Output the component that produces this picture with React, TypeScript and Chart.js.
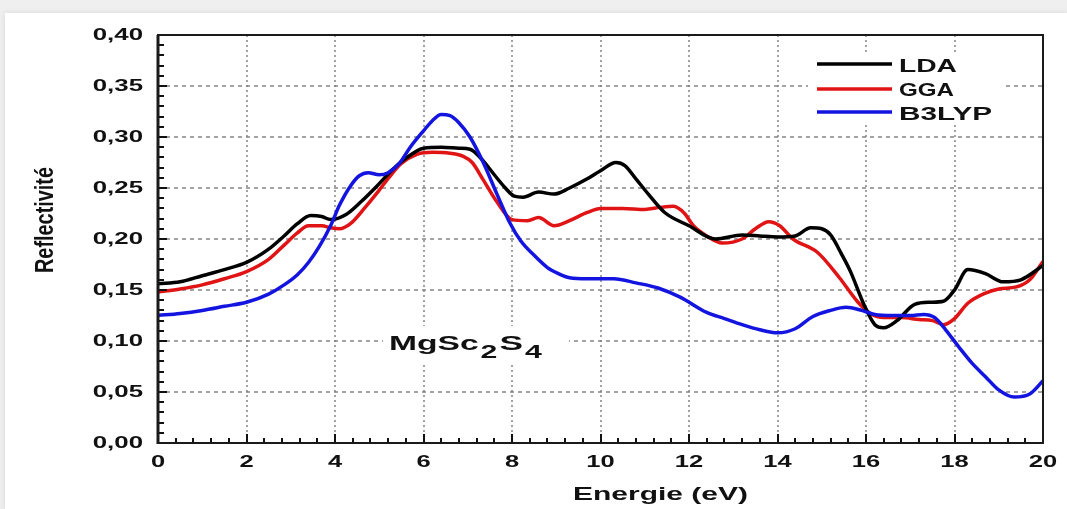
import React, { useEffect, useRef } from 'react';
import { Chart, registerables } from 'chart.js';

Chart.register(...registerables);

// ---------- DATA ----------
const seriesNames = ['LDA', 'GGA', 'B3LYP'];
const seriesColors = ['#000000', '#e01414', '#1414e0'];

const ldaEnergy = [0, 0.5, 1, 1.5, 2, 2.5, 2.85, 3.15, 3.45, 3.7, 3.9, 4.25, 4.6, 4.95, 5.3, 5.6, 6.0, 6.4, 6.8, 7.05, 7.3, 7.6, 7.85, 8.05, 8.25, 8.6, 8.95, 9.3, 9.7, 10.0, 10.35, 10.55, 10.8, 11.1, 11.45, 12.0, 12.6, 13.2, 13.6, 14.0, 14.4, 14.75, 15.0, 15.2, 15.45, 15.65, 15.95, 16.2, 16.4, 16.7, 17.1, 17.45, 17.75, 18.0, 18.3, 18.7, 19.1, 19.5, 20];
const ldaValues = [0.156, 0.158, 0.164, 0.17, 0.177, 0.19, 0.203, 0.215, 0.223, 0.222, 0.219, 0.224, 0.237, 0.252, 0.268, 0.279, 0.289, 0.29, 0.289, 0.288, 0.279, 0.263, 0.25, 0.242, 0.241, 0.246, 0.244, 0.25, 0.259, 0.267, 0.275, 0.272, 0.259, 0.243, 0.226, 0.213, 0.2, 0.204, 0.203, 0.202, 0.203, 0.211, 0.21, 0.204, 0.185, 0.168, 0.136, 0.116, 0.113, 0.12, 0.136, 0.138, 0.139, 0.15, 0.17, 0.166, 0.158, 0.16, 0.174];

const ggaEnergy = [0, 0.5, 1, 1.5, 2, 2.5, 2.85, 3.15, 3.4, 3.7, 3.9, 4.1, 4.35, 4.7, 5.0, 5.25, 5.5, 5.85, 6.2, 6.6, 6.9, 7.1, 7.35, 7.65, 8.0, 8.35, 8.6, 8.95, 9.3, 9.7, 10.0, 10.5, 11.0, 11.35, 11.65, 11.9, 12.1, 12.4, 12.75, 13.2, 13.5, 13.8, 14.05, 14.35, 14.9, 15.4, 15.8, 16.1, 16.4, 16.8, 17.2, 17.5, 17.75, 18.0, 18.3, 18.7, 19.0, 19.4, 19.7, 20];
const ggaValues = [0.148, 0.151, 0.155, 0.161, 0.168, 0.18, 0.194, 0.206, 0.213, 0.213, 0.211, 0.21, 0.215, 0.232, 0.248, 0.262, 0.274, 0.283, 0.285, 0.284, 0.281, 0.275, 0.258, 0.237, 0.219, 0.218, 0.221, 0.213, 0.218, 0.226, 0.23, 0.23, 0.229, 0.231, 0.232, 0.225, 0.213, 0.203, 0.196, 0.2, 0.21, 0.217, 0.213, 0.2, 0.187, 0.162, 0.139, 0.127, 0.123, 0.123, 0.121, 0.12, 0.116, 0.122, 0.137, 0.147, 0.151, 0.153, 0.16, 0.178];

const b3lypEnergy = [0, 0.5, 1, 1.5, 2, 2.5, 2.85, 3.15, 3.4, 3.65, 3.9, 4.1, 4.35, 4.55, 4.75, 5.0, 5.2, 5.45, 5.7, 6.0, 6.2, 6.4, 6.6, 6.8, 7.05, 7.35, 7.65, 7.95, 8.2, 8.5, 8.8, 9.05, 9.3, 9.7, 10.3, 10.8, 11.3, 11.8, 12.4, 12.8, 13.2, 13.6, 14.0, 14.4, 14.8, 15.2, 15.55, 15.9, 16.2, 16.6, 17.0, 17.3, 17.55, 17.8, 18.1, 18.4, 18.7, 19.0, 19.35, 19.7, 20];
const b3lypValues = [0.125, 0.127, 0.13, 0.134, 0.138, 0.146, 0.155, 0.165, 0.177, 0.193, 0.213, 0.233, 0.252, 0.262, 0.265, 0.263, 0.265, 0.274, 0.29, 0.306, 0.316, 0.322, 0.321, 0.314, 0.3, 0.275, 0.245, 0.216, 0.198, 0.184, 0.172, 0.166, 0.162, 0.161, 0.161, 0.157, 0.152, 0.143, 0.128, 0.122, 0.116, 0.111, 0.108, 0.112, 0.124, 0.13, 0.133, 0.13, 0.126, 0.125, 0.125, 0.126, 0.123, 0.111, 0.094, 0.078, 0.065, 0.052, 0.045, 0.048, 0.061];

const xTickValues = [0, 2, 4, 6, 8, 10, 12, 14, 16, 18, 20];
const xTickLabels = ['0', '2', '4', '6', '8', '10', '12', '14', '16', '18', '20'];
const yTickValues = [0, 0.05, 0.1, 0.15, 0.2, 0.25, 0.3, 0.35, 0.4];
const yTickLabels = ['0,00', '0,05', '0,10', '0,15', '0,20', '0,25', '0,30', '0,35', '0,40'];

const xTitle = 'Energie (eV)';
const yTitle = 'Reflectivité';
const materialParts = [
  { text: 'MgSc', sub: false, size: 20 },
  { text: '2', sub: true, size: 18 },
  { text: 'S', sub: false, size: 21 },
  { text: '4', sub: true, size: 18 },
];

const FONT = '"Liberation Sans", Arial, Helvetica, sans-serif';

function toPoints(xs: number[], ys: number[]) {
  return xs.map((x, i) => ({ x, y: ys[i] }));
}

function drawStretched(
  ctx: CanvasRenderingContext2D,
  text: string,
  x: number,
  y: number,
  font: string,
  sx: number,
  align: 'left' | 'center' | 'right',
  baseline: CanvasTextBaseline
) {
  ctx.save();
  ctx.font = font;
  ctx.textBaseline = baseline;
  ctx.textAlign = 'left';
  const w = ctx.measureText(text).width;
  ctx.translate(x, y);
  ctx.scale(sx, 1);
  const dx = align === 'right' ? -w : align === 'center' ? -w / 2 : 0;
  ctx.fillText(text, dx, 0);
  ctx.restore();
}

function drawToWidth(
  ctx: CanvasRenderingContext2D,
  text: string,
  x: number,
  baselineY: number,
  font: string,
  width: number
) {
  ctx.save();
  ctx.font = font;
  ctx.textBaseline = 'alphabetic';
  ctx.textAlign = 'left';
  const w = ctx.measureText(text).width;
  ctx.translate(x, baselineY);
  ctx.scale(width / w, 1);
  ctx.fillText(text, 0, 0);
  ctx.restore();
}

function segs(ctx: CanvasRenderingContext2D, list: number[][]) {
  list.forEach(([x1, y1, x2, y2]) => {
    ctx.beginPath();
    ctx.moveTo(x1, y1);
    ctx.lineTo(x2, y2);
    ctx.stroke();
  });
}

const gridPlugin = {
  id: 'dashedGrid',
  beforeDatasetsDraw(chart: any) {
    const ctx: CanvasRenderingContext2D = chart.ctx;
    const xs = chart.scales.x;
    const ys = chart.scales.y;
    const area = chart.chartArea;
    ctx.save();
    ctx.globalAlpha = 1;
    ctx.strokeStyle = '#7c7c7c';
    ctx.lineWidth = 1.4;
    ctx.setLineDash([2, 3]);
    segs(
      ctx,
      xTickValues.map((v) => {
        const px = Math.round(xs.getPixelForValue(v));
        return [px, area.top, px, area.bottom];
      })
    );
    ctx.setLineDash([4, 4]);
    segs(
      ctx,
      yTickValues.map((v) => {
        const py = Math.round(ys.getPixelForValue(v));
        return [area.left, py, area.right, py];
      })
    );
    ctx.restore();
  },
};

const decorPlugin = {
  id: 'decor',
  afterDraw(chart: any) {
    const ctx: CanvasRenderingContext2D = chart.ctx;
    const xs = chart.scales.x;
    const ys = chart.scales.y;
    const area = chart.chartArea;

    ctx.save();
    ctx.setLineDash([]);
    // white boxes (legend + material label) hiding grid
    ctx.fillStyle = '#ffffff';
    ctx.fillRect(808, 53, 194, 71);
    ctx.fillRect(383, 326, 186, 38);

    // inward ticks on left and bottom axes
    ctx.strokeStyle = '#111';
    ctx.lineWidth = 2;
    const tickSegs: number[][] = [];
    for (let i = 0; i <= 40; i++) {
      const py = Math.round(ys.getPixelForValue(i / 100));
      const len = i % 5 === 0 ? 9 : 6;
      tickSegs.push([area.left, py, area.left + len, py]);
    }
    for (let i = 0; i <= 50; i++) {
      const px = Math.round(xs.getPixelForValue(i * 0.4));
      const len = i % 5 === 0 ? 9 : 5;
      tickSegs.push([px, area.bottom, px, area.bottom - len]);
    }
    segs(ctx, tickSegs);

    // frame
    ctx.strokeStyle = '#1a1a1a';
    ctx.lineWidth = 2;
    ctx.strokeRect(area.left, area.top, area.right - area.left, area.bottom - area.top);
    ctx.lineWidth = 3;
    segs(ctx, [[area.left, area.top, area.left, area.bottom + 1]]);

    // tick labels
    ctx.fillStyle = '#111';
    const tickFont = `bold 17px ${FONT}`;
    yTickValues.forEach((v, i) => {
      drawStretched(ctx, yTickLabels[i], 143, ys.getPixelForValue(v), tickFont, 1.52, 'right', 'middle');
    });
    xTickValues.forEach((v, i) => {
      drawStretched(ctx, xTickLabels[i], xs.getPixelForValue(v), 462, tickFont, 1.5, 'center', 'middle');
    });

    // axis titles
    drawToWidth(ctx, xTitle, 573, 500, `bold 18px ${FONT}`, 175);
    ctx.save();
    ctx.font = `bold 25px "Liberation Sans Narrow", ${FONT}`;
    ctx.textBaseline = 'alphabetic';
    const yw = ctx.measureText(yTitle).width;
    ctx.translate(53, 220);
    ctx.rotate(-Math.PI / 2);
    ctx.scale(106 / yw, 1);
    ctx.fillText(yTitle, -yw / 2, 0);
    ctx.restore();

    // legend
    const legendY = [64, 89, 112];
    const legendBase = [72, 96, 120];
    const legendW = [58, 55, 93];
    seriesNames.forEach((name, i) => {
      ctx.strokeStyle = seriesColors[i];
      ctx.lineWidth = 3.5;
      segs(ctx, [[817, legendY[i], 892, legendY[i]]]);
      ctx.fillStyle = '#111';
      drawToWidth(ctx, name, 899, legendBase[i], `bold 18px ${FONT}`, legendW[i]);
    });

    // material label
    ctx.fillStyle = '#111';
    const sxM = 1.68;
    let cx = 389;
    materialParts.forEach((p) => {
      const font = `bold ${p.size}px ${FONT}`;
      ctx.font = font;
      const w = ctx.measureText(p.text).width * sxM;
      drawStretched(ctx, p.text, cx, p.sub ? 358 : 350, font, sxM, 'left', 'alphabetic');
      cx += w + 2;
    });
    ctx.restore();
  },
};

export default function App() {
  const canvasRef = useRef<HTMLCanvasElement | null>(null);

  useEffect(() => {
    const canvas = canvasRef.current;
    if (!canvas) return;
    const chart = new Chart(canvas, {
      type: 'line',
      data: {
        datasets: [
          { label: seriesNames[0], data: toPoints(ldaEnergy, ldaValues), borderColor: seriesColors[0], order: 1 },
          { label: seriesNames[1], data: toPoints(ggaEnergy, ggaValues), borderColor: seriesColors[1], order: 2 },
          { label: seriesNames[2], data: toPoints(b3lypEnergy, b3lypValues), borderColor: seriesColors[2], order: 0 },
        ].map((d) => ({
          ...d,
          borderWidth: 3.5,
          pointRadius: 0,
          fill: false,
          cubicInterpolationMode: 'monotone' as const,
        })),
      },
      options: {
        animation: false,
        responsive: false,
        devicePixelRatio: 1,
        layout: { padding: { left: 0, top: 35, right: 24, bottom: 0 } },
        plugins: { legend: { display: false }, tooltip: { enabled: false } },
        scales: {
          x: {
            type: 'linear',
            min: 0,
            max: 20,
            ticks: { stepSize: 2, display: false },
            grid: { display: false, drawTicks: false },
            border: { display: false },
            afterFit: (s: any) => {
              s.height = 66;
            },
          },
          y: {
            type: 'linear',
            min: 0,
            max: 0.4,
            ticks: { stepSize: 0.05, display: false },
            grid: { display: false, drawTicks: false },
            border: { display: false },
            afterFit: (s: any) => {
              s.width = 158;
            },
          },
        },
      },
      plugins: [gridPlugin, decorPlugin],
    });
    return () => chart.destroy();
  }, []);

  return (
    <div style={{ position: 'fixed', left: 0, top: 0, width: 1067, height: 509, background: '#efefef', overflow: 'hidden' }}>
      <div
        style={{
          position: 'absolute',
          left: 5,
          top: 13,
          right: 0,
          bottom: 0,
          background: '#ffffff',
          boxShadow: '0 0 6px rgba(0,0,0,0.10)',
        }}
      />
      <canvas ref={canvasRef} width={1067} height={509} style={{ position: 'absolute', left: 0, top: 0 }} />
    </div>
  );
}
